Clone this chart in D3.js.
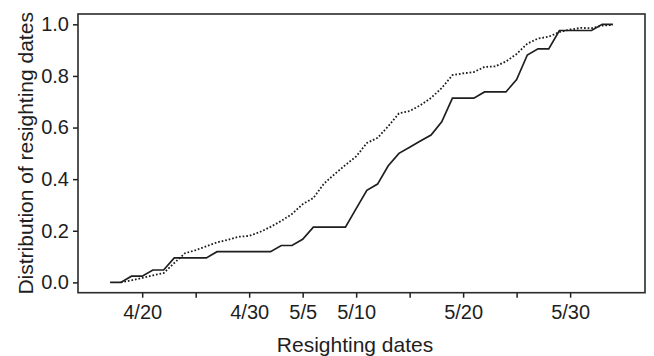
<!DOCTYPE html>
<html>
<head>
<meta charset="utf-8">
<script src="https://cdn.jsdelivr.net/npm/d3@7"></script>
<style>
  html, body { margin: 0; padding: 0; background: #fff; }
  svg { display: block; }
  text { font-family: "Liberation Sans", Arial, Helvetica, sans-serif; fill: #1e1e1e; }
</style>
</head>
<body>
<svg id="chart" width="654" height="356"></svg>
<script>
// ---- data ----
const solidDates = ["4/17","4/18","4/19","4/20","4/21","4/22","4/23","4/24","4/25","4/26","4/27","4/28","4/29","4/30","5/1","5/2","5/3","5/4","5/5","5/6","5/7","5/8","5/9","5/10","5/11","5/12","5/13","5/14","5/15","5/16","5/17","5/18","5/19","5/20","5/21","5/22","5/23","5/24","5/25","5/26","5/27","5/28","5/29","5/30","5/31","6/1","6/2","6/3"];
const solidValues = [0,0,0.024,0.024,0.048,0.048,0.095,0.095,0.095,0.095,0.119,0.119,0.119,0.119,0.119,0.119,0.143,0.143,0.167,0.214,0.214,0.214,0.214,0.286,0.357,0.381,0.452,0.5,0.524,0.548,0.571,0.622,0.714,0.714,0.714,0.738,0.738,0.738,0.786,0.881,0.905,0.905,0.976,0.976,0.976,0.976,1.0,1.0];

const dottedDates = ["4/18","4/19","4/20","4/21","4/22","4/23","4/24","4/25","4/26","4/27","4/28","4/29","4/30","5/1","5/2","5/3","5/4","5/5","5/6","5/7","5/8","5/9","5/10","5/11","5/12","5/13","5/14","5/15","5/16","5/17","5/18","5/19","5/20","5/21","5/22","5/23","5/24","5/25","5/26","5/27","5/28","5/29","5/30","5/31","6/1","6/2","6/3"];
const dottedValues = [0,0.008,0.017,0.027,0.036,0.075,0.113,0.125,0.14,0.155,0.165,0.177,0.18,0.195,0.215,0.238,0.265,0.303,0.327,0.383,0.42,0.455,0.488,0.54,0.56,0.605,0.655,0.664,0.686,0.715,0.753,0.803,0.81,0.815,0.835,0.837,0.856,0.885,0.925,0.945,0.952,0.97,0.98,0.986,0.985,0.995,0.998];

const xTickDates = ["4/20","4/25","4/30","5/5","5/10","5/15","5/20","5/25","5/30"];
const xTickLabels = ["4/20","","4/30","5/5","5/10","","5/20","","5/30"];
const yTicks = [0, 0.2, 0.4, 0.6, 0.8, 1.0];
const xDomain = ["4/14","6/6"];
const yDomain = [-0.04, 1.04];

// ---- layout ----
const mLeft = 78, mRight = 645, mTop = 14, mBottom = 292.7;
const parse = d3.timeParse("%m/%d");
const svg = d3.select("#chart");

const x = d3.scaleTime().domain(xDomain.map(parse)).range([mLeft, mRight]);
const y = d3.scaleLinear().domain(yDomain).range([mBottom, mTop]);

// axes
const xAxis = d3.axisBottom(x)
  .tickValues(xTickDates.map(parse))
  .tickFormat((d, i) => xTickLabels[i])
  .tickSize(5).tickPadding(7);
const gx = svg.append("g").attr("transform", `translate(0,${mBottom})`).call(xAxis);
gx.select(".domain").remove();
gx.selectAll(".tick line").attr("stroke", "#1e1e1e").attr("stroke-width", 1.5);
gx.selectAll(".tick text").style("font-size", "20px").attr("fill", "#1e1e1e")
  .style("font-family", "'Liberation Sans', Arial, sans-serif");

const yAxis = d3.axisLeft(y).tickValues(yTicks).tickFormat(d3.format(".1f"))
  .tickSize(5).tickPadding(4);
const gy = svg.append("g").attr("transform", `translate(${mLeft},0)`).call(yAxis);
gy.select(".domain").remove();
gy.selectAll(".tick line").attr("stroke", "#1e1e1e").attr("stroke-width", 1.5);
gy.selectAll(".tick text").style("font-size", "20px").attr("fill", "#1e1e1e")
  .style("font-family", "'Liberation Sans', Arial, sans-serif");

// frame
svg.append("rect")
  .attr("x", mLeft).attr("y", mTop)
  .attr("width", mRight - mLeft).attr("height", mBottom - mTop)
  .attr("fill", "none").attr("stroke", "#2a2a2a").attr("stroke-width", 1.6);

// lines
const line = d3.line().x(d => x(parse(d[0]))).y(d => y(d[1]));
svg.append("path")
  .datum(dottedDates.map((d, i) => [d, dottedValues[i]]))
  .attr("d", line).attr("fill", "none")
  .attr("stroke", "#1e1e1e").attr("stroke-width", 1.8)
  .attr("stroke-dasharray", "1.7,1.9");
svg.append("path")
  .datum(solidDates.map((d, i) => [d, solidValues[i]]))
  .attr("d", line).attr("fill", "none")
  .attr("stroke", "#1e1e1e").attr("stroke-width", 1.7)
  .attr("stroke-linejoin", "miter");

// titles
svg.append("text")
  .attr("x", 355).attr("y", 352)
  .attr("text-anchor", "middle").style("font-size", "21px")
  .text("Resighting dates");
svg.append("text")
  .attr("transform", `translate(33,${(mTop + mBottom) / 2}) rotate(-90)`)
  .attr("text-anchor", "middle").style("font-size", "21px")
  .text("Distribution of resighting dates");
</script>
</body>
</html>
